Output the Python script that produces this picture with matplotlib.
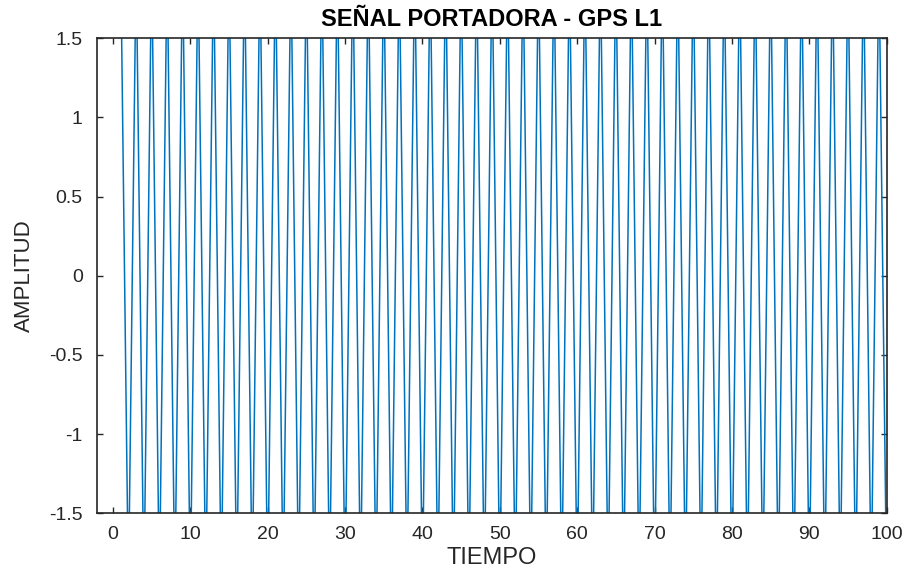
import matplotlib
matplotlib.use("Agg")
import matplotlib.pyplot as plt
import numpy as np

# muestras de la portadora (una por unidad de tiempo, n = 1..100)
tiempo = np.arange(1, 101)
amplitud = [
    2, -2, 2, -2, 2, -2, 2, -2, 2, -2,
    2, -2, 2, -2, 2, -2, 2, -2, 2, -2,
    2, -2, 2, -2, 2, -2, 2, -2, 2, -2,
    2, -2, 2, -2, 2, -2, 2, -2, 2, -2,
    2, -2, 2, -2, 2, -2, 2, -2, 2, -2,
    2, -2, 2, -2, 2, -2, 2, -2, 2, -2,
    2, -2, 2, -2, 2, -2, 2, -2, 2, -2,
    2, -2, 2, -2, 2, -2, 2, -2, 2, -2,
    2, -2, 2, -2, 2, -2, 2, -2, 2, -2,
    2, -2, 2, -2, 2, -2, 2, -2, 2, -2,
]
xticks = [0, 10, 20, 30, 40, 50, 60, 70, 80, 90, 100]
yticks = [-1.5, -1, -0.5, 0, 0.5, 1, 1.5]
ytick_labels = ['-1.5', '-1', '-0.5', '0', '0.5', '1', '1.5']

plt.rcParams['font.family'] = ['Liberation Sans', 'DejaVu Sans']
gris = '#262626'

fig = plt.figure(figsize=(9.08, 5.70), dpi=100)
ax = fig.add_axes([0.1065, 0.0995, 0.870, 0.8333])

ax.plot(tiempo, amplitud, color='#0072BD', linewidth=1.1)

ax.set_xlim(-2.1, 100)
ax.set_ylim(-1.5, 1.5)
ax.set_xticks(xticks)
ax.set_yticks(yticks)
ax.set_yticklabels(ytick_labels)

ax.tick_params(direction='in', length=4.5, width=1.0, colors=gris,
               labelsize=14, top=True, right=True, pad=9)
ax.tick_params(axis='y', pad=10)
for s in ax.spines.values():
    s.set_color(gris)
    s.set_linewidth(1.2)

ax.set_title('SEÑAL PORTADORA - GPS L1', fontsize=17, fontweight='bold', pad=9)
ax.set_xlabel('TIEMPO', fontsize=17, color=gris, labelpad=3)
ax.set_ylabel('AMPLITUD', fontsize=16, color=gris, labelpad=10)

fig.savefig('out.png', dpi=100)
